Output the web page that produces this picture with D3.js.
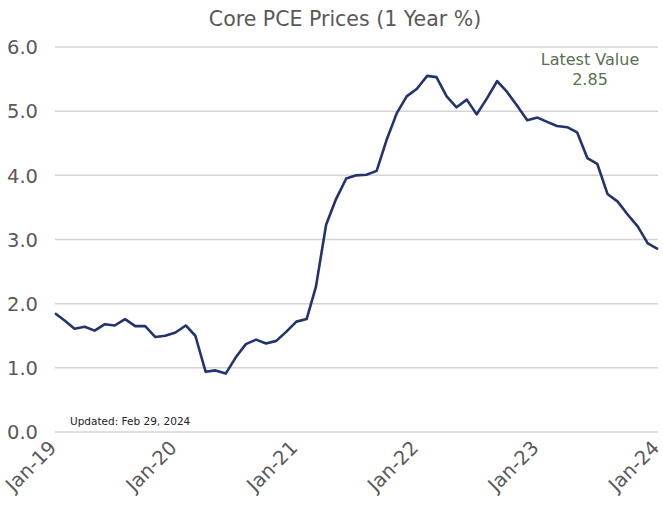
<!DOCTYPE html>
<html><head><meta charset="utf-8">
<script src="https://cdn.jsdelivr.net/npm/d3@7"></script>
<style>body{margin:0;background:#fff}svg{display:block}text{font-family:"DejaVu Sans",Verdana,sans-serif}</style>
</head><body><svg id="c" width="663" height="505"></svg>
<script>
const title = "Core PCE Prices (1 Year %)";
const startMonth = "2019-01";
const values = [1.85,1.73,1.61,1.64,1.58,1.68,1.66,1.76,1.65,1.65,1.48,1.50,
  1.55,1.66,1.50,0.94,0.96,0.91,1.16,1.37,1.44,1.38,1.42,1.56,
  1.72,1.76,2.26,3.23,3.63,3.95,4.00,4.01,4.07,4.55,4.97,5.23,
  5.35,5.55,5.53,5.23,5.06,5.18,4.95,5.20,5.47,5.30,5.08,4.86,
  4.90,4.83,4.77,4.75,4.67,4.27,4.18,3.71,3.59,3.39,3.20,2.94,2.85];
const yTicks = [0,1,2,3,4,5,6];
const xTickLabels = ["Jan-19","Jan-20","Jan-21","Jan-22","Jan-23","Jan-24"];
const xTickDates = ["2019-01","2020-01","2021-01","2022-01","2023-01","2024-01"];
const latestLabel = "Latest Value";
const updatedNote = "Updated: Feb 29, 2024";

const parse = d3.timeParse("%Y-%m");
const t0 = parse(startMonth);
const data = values.map((v,i)=>({date:d3.timeMonth.offset(t0,i), v}));

const svg = d3.select("#c");
const L=55, R=658, T=47, B=432;
const x = d3.scaleTime().domain([t0, data[data.length-1].date]).range([L,R]);
const y = d3.scaleLinear().domain([0,6]).range([B,T]);

const grey="#595959";
// gridlines
svg.append("g").selectAll("line").data(yTicks).join("line")
  .attr("x1",L).attr("x2",R).attr("y1",d=>y(d)).attr("y2",d=>y(d))
  .attr("stroke","#d4d4d4").attr("stroke-width",1.5);

// y axis labels
const yAxis = d3.axisLeft(y).tickValues(yTicks).tickFormat(d3.format(".1f")).tickSize(0).tickPadding(0);
const gy = svg.append("g").attr("transform","translate(38,0)").call(yAxis);
gy.select(".domain").remove();
gy.selectAll("text").attr("fill",grey).style("font-size","19.5px").attr("dy","0.35em");

// x axis labels
const xAxis = d3.axisBottom(x).tickValues(xTickDates.map(parse)).tickFormat((d,i)=>xTickLabels[i]).tickSize(0).tickPadding(0);
const gx = svg.append("g").attr("transform",`translate(0,${B})`).call(xAxis);
gx.select(".domain").remove();
gx.selectAll("text").attr("fill",grey).style("font-size","19.5px")
  .attr("text-anchor","end").attr("dy","0").attr("y",0)
  .attr("transform","translate(2,17) rotate(-45)");

// line
svg.append("path").datum(data)
  .attr("d", d3.line().x(d=>x(d.date)).y(d=>y(d.v)))
  .attr("fill","none").attr("stroke","#22336e").attr("stroke-width",2.6)
  .attr("stroke-linejoin","round");

// title
svg.append("text").attr("x",345).attr("y",26).attr("text-anchor","middle")
  .attr("fill",grey).style("font-size","20.5px").text(title);

// latest value annotation
const last = values[values.length-1];
svg.append("text").attr("x",590).attr("y",65).attr("text-anchor","middle")
  .attr("fill","#5b7051").style("font-size","16px").text(latestLabel);
svg.append("text").attr("x",590).attr("y",85).attr("text-anchor","middle")
  .attr("fill","#5b7051").style("font-size","16px").text(d3.format(".2f")(last));

// updated note
svg.append("text").attr("x",70).attr("y",425).attr("fill","#222")
  .style("font-size","10.5px").text(updatedNote);
</script></body></html>
